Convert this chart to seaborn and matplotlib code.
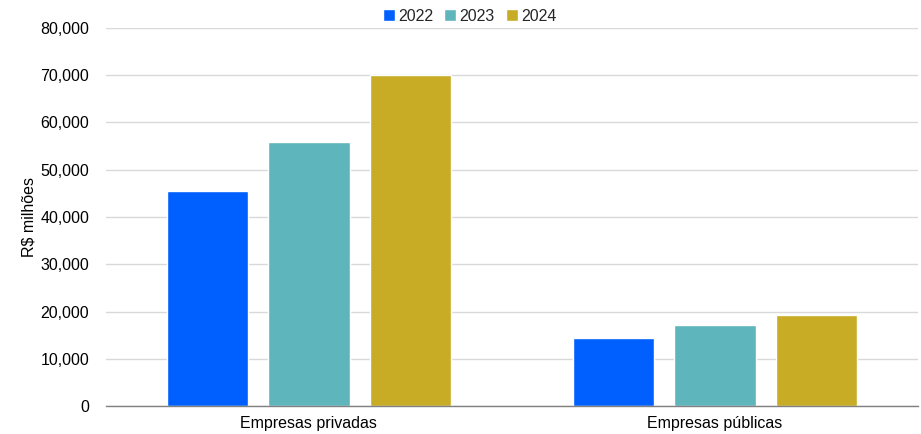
import matplotlib
matplotlib.use("Agg")
import matplotlib.pyplot as plt
from matplotlib.ticker import FuncFormatter, FixedLocator
import seaborn as sns
import pandas as pd

categories = ["Empresas privadas", "Empresas públicas"]
years = ["2022", "2023", "2024"]
values_2022 = [45500, 14450]
values_2023 = [55900, 17100]
values_2024 = [70000, 19300]
colors = ["#005FFF", "#5FB5BC", "#C8AC25"]

rows = []
for year, vals in zip(years, [values_2022, values_2023, values_2024]):
    for cat, v in zip(categories, vals):
        rows.append({"categoria": cat, "ano": year, "valor": v})
df = pd.DataFrame(rows)

sns.set_theme(style="white")
plt.rcParams["font.family"] = ["Liberation Sans", "DejaVu Sans"]

FS = 11.5

fig = plt.figure(figsize=(9.21, 4.34), dpi=100)
ax = fig.add_axes([0.115, 0.0645, 0.8817, 0.871])

sns.barplot(data=df, x="categoria", y="valor", hue="ano", order=categories,
            hue_order=years, palette=colors, width=0.75, gap=0.2,
            saturation=1, ax=ax, legend=True)

ax.set_ylim(0, 80000)
ax.set_xlim(-0.5, 1.5)
ax.set_yticks(range(0, 80001, 10000))
ax.yaxis.set_major_formatter(FuncFormatter(lambda v, p: f"{int(v):,}"))
ax.yaxis.grid(True, color="#D9D9D9", linewidth=1)
ax.set_axisbelow(True)

for s in ["top", "right", "left"]:
    ax.spines[s].set_visible(False)
ax.spines["bottom"].set_color("#808080")
ax.spines["bottom"].set_linewidth(1)

ax.tick_params(axis="y", length=0, labelsize=FS, labelcolor="#000000", pad=12)
ax.tick_params(axis="x", which="major", length=0, labelsize=FS, labelcolor="#000000", pad=7)
ax.xaxis.set_minor_locator(FixedLocator([-0.5, 0.5, 1.5]))
ax.tick_params(axis="x", which="minor", length=5, width=1, color="#808080", direction="out")

ax.set_xlabel("")
ax.set_ylabel("R$ milhões", fontsize=FS, color="#000000", labelpad=3)

# legend centred on the figure, above the plot area
handles, labels = ax.get_legend_handles_labels()
fig.legend(handles, labels, loc="upper center", bbox_to_anchor=(0.51, 0.995),
           ncol=3, frameon=False, fontsize=FS, handlelength=0.75, handleheight=0.75,
           handletextpad=0.2, columnspacing=0.7, borderaxespad=0)
ax.get_legend().remove()

fig.savefig("out.png", dpi=100)
